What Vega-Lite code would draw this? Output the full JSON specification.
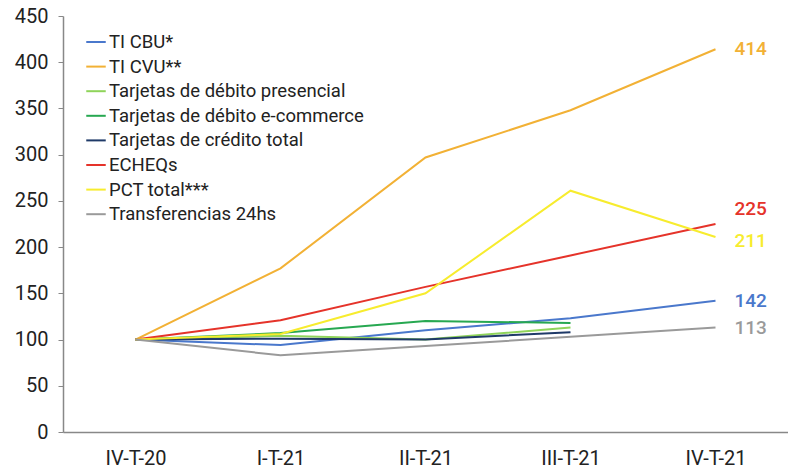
{
  "$schema": "https://vega.github.io/schema/vega-lite/v6.json",
  "width": 725,
  "height": 416,
  "autosize": "none",
  "padding": {"left": 63, "top": 16, "right": 0, "bottom": 39},
  "background": "white",
  "config": {"view": {"stroke": null}, "font": "Roboto"},
  "data": {"values": [
    {"q": "IV-T-20", "s": "TI CBU*", "v": 100},
    {"q": "I-T-21", "s": "TI CBU*", "v": 94},
    {"q": "II-T-21", "s": "TI CBU*", "v": 110},
    {"q": "III-T-21", "s": "TI CBU*", "v": 123},
    {"q": "IV-T-21", "s": "TI CBU*", "v": 142, "lab": "142"},
    {"q": "IV-T-20", "s": "TI CVU**", "v": 100},
    {"q": "I-T-21", "s": "TI CVU**", "v": 177},
    {"q": "II-T-21", "s": "TI CVU**", "v": 297},
    {"q": "III-T-21", "s": "TI CVU**", "v": 348},
    {"q": "IV-T-21", "s": "TI CVU**", "v": 414, "lab": "414"},
    {"q": "IV-T-20", "s": "Tarjetas de débito presencial", "v": 100},
    {"q": "I-T-21", "s": "Tarjetas de débito presencial", "v": 104},
    {"q": "II-T-21", "s": "Tarjetas de débito presencial", "v": 100},
    {"q": "III-T-21", "s": "Tarjetas de débito presencial", "v": 113},
    {"q": "IV-T-20", "s": "Tarjetas de débito e-commerce", "v": 100},
    {"q": "I-T-21", "s": "Tarjetas de débito e-commerce", "v": 107},
    {"q": "II-T-21", "s": "Tarjetas de débito e-commerce", "v": 120},
    {"q": "III-T-21", "s": "Tarjetas de débito e-commerce", "v": 118},
    {"q": "IV-T-20", "s": "Tarjetas de crédito total", "v": 100},
    {"q": "I-T-21", "s": "Tarjetas de crédito total", "v": 101},
    {"q": "II-T-21", "s": "Tarjetas de crédito total", "v": 100},
    {"q": "III-T-21", "s": "Tarjetas de crédito total", "v": 108},
    {"q": "IV-T-20", "s": "ECHEQs", "v": 100},
    {"q": "I-T-21", "s": "ECHEQs", "v": 121},
    {"q": "II-T-21", "s": "ECHEQs", "v": 157},
    {"q": "III-T-21", "s": "ECHEQs", "v": 191},
    {"q": "IV-T-21", "s": "ECHEQs", "v": 225, "lab": "225"},
    {"q": "IV-T-20", "s": "PCT total***", "v": 100},
    {"q": "I-T-21", "s": "PCT total***", "v": 106},
    {"q": "II-T-21", "s": "PCT total***", "v": 150},
    {"q": "III-T-21", "s": "PCT total***", "v": 261},
    {"q": "IV-T-21", "s": "PCT total***", "v": 211, "lab": "211"},
    {"q": "IV-T-20", "s": "Transferencias 24hs", "v": 100},
    {"q": "I-T-21", "s": "Transferencias 24hs", "v": 83},
    {"q": "II-T-21", "s": "Transferencias 24hs", "v": 93},
    {"q": "III-T-21", "s": "Transferencias 24hs", "v": 103},
    {"q": "IV-T-21", "s": "Transferencias 24hs", "v": 113, "lab": "113"}
  ]},
  "encoding": {
    "x": {"field": "q", "type": "ordinal", "sort": ["IV-T-20", "I-T-21", "II-T-21", "III-T-21", "IV-T-21"],
      "scale": {"type": "point", "padding": 0.5},
      "axis": {"title": null, "labelAngle": 0, "ticks": false, "labelFontSize": 20, "labelColor": "#222", "labelPadding": 16, "domainColor": "#888", "domainWidth": 1.5}},
    "y": {"field": "v", "type": "quantitative",
      "scale": {"domain": [0, 450], "nice": false},
      "axis": {"title": null, "values": [0,50,100,150,200,250,300,350,400,450], "grid": false, "labelFontSize": 20, "labelColor": "#222", "labelPadding": 10, "tickSize": 5, "tickColor": "#888", "domainColor": "#888", "domainWidth": 1.5}},
    "color": {"field": "s", "type": "nominal",
      "scale": {
        "domain": ["TI CBU*", "TI CVU**", "Tarjetas de débito presencial", "Tarjetas de débito e-commerce", "Tarjetas de crédito total", "ECHEQs", "PCT total***", "Transferencias 24hs"],
        "range": ["#4A78CC", "#F2B135", "#8FD45A", "#27A851", "#1F3A68", "#E5332A", "#F7EC2E", "#9A9A9A"]
      }}
  },
  "layer": [
    {
      "mark": {"type": "line", "strokeWidth": 2},
      "encoding": {
        "color": {"field": "s", "type": "nominal",
          "legend": {"title": null, "orient": "none", "legendX": 22, "legendY": 15, "symbolType": "stroke", "symbolStrokeWidth": 2, "symbolSize": 380, "labelFontSize": 18.5, "labelColor": "#222", "rowPadding": 3.6, "labelOffset": 2, "labelLimit": 400}}
      }
    },
    {
      "transform": [{"filter": "datum.lab != null && datum.s != 'ECHEQs' && datum.s != 'PCT total***'"}],
      "mark": {"type": "text", "align": "left", "dx": 19, "fontSize": 19, "fontWeight": 500, "baseline": "middle"},
      "encoding": {"text": {"field": "lab"}, "color": {"field": "s", "type": "nominal", "legend": null}}
    },
    {
      "transform": [{"filter": "datum.s == 'ECHEQs'"}, {"filter": "datum.lab != null"}],
      "mark": {"type": "text", "align": "left", "dx": 19, "dy": -15, "fontSize": 19, "fontWeight": 500, "baseline": "middle"},
      "encoding": {"text": {"field": "lab"}, "color": {"field": "s", "type": "nominal", "legend": null}}
    },
    {
      "transform": [{"filter": "datum.s == 'PCT total***'"}, {"filter": "datum.lab != null"}],
      "mark": {"type": "text", "align": "left", "dx": 19, "dy": 4, "fontSize": 19, "fontWeight": 500, "baseline": "middle"},
      "encoding": {"text": {"field": "lab"}, "color": {"field": "s", "type": "nominal", "legend": null}}
    }
  ]
}
